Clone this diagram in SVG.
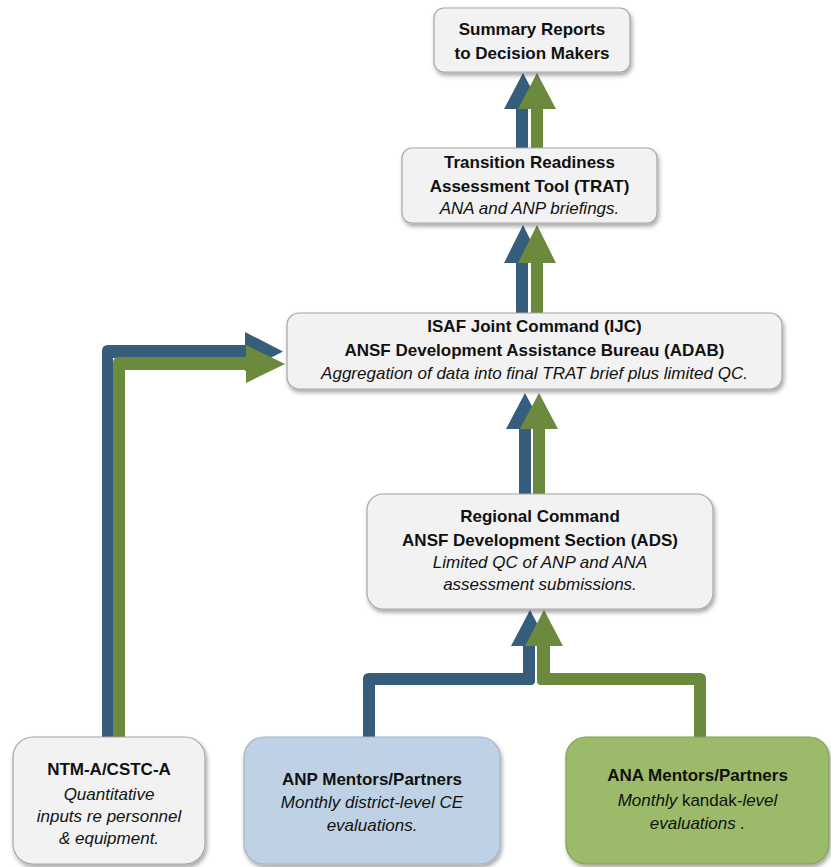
<svg xmlns="http://www.w3.org/2000/svg" width="831" height="867" viewBox="0 0 831 867">
  <defs>
    <filter id="sh" x="-10%" y="-10%" width="125%" height="135%">
      <feDropShadow dx="1.5" dy="3" stdDeviation="2" flood-color="#000" flood-opacity="0.35"/>
    </filter>
  </defs>
  <style>
    .box{fill:#f2f2f2;stroke:#a6a6a6;stroke-width:1.2;filter:url(#sh)}
    .anp{fill:#bfd1e4;stroke:#a3b3c3}
    .ana{fill:#9cbb6b;stroke:#819d56}
    .t{font-family:"Liberation Sans",Arial,sans-serif;font-size:17px;fill:#111;text-anchor:middle}
    .b{font-weight:bold}
    .i{font-style:italic}
    .n{font-style:normal}
    .blue{fill:#375d7c}
    .green{fill:#6b8a3e}
  </style>

  <g id="connectors">
    <!-- TRAT -> Summary -->
    <path class="blue" d="M523,73 L542,109 H528 V148 H516 V109 H504 Z"/>
    <path class="green" d="M537,73 L556,109 H543 V148 H531 V109 H518 Z"/>
    <!-- ISAF -> TRAT -->
    <path class="blue" d="M523,225 L542,263 H528 V313 H516 V263 H504 Z"/>
    <path class="green" d="M537,225 L556,263 H543 V313 H531 V263 H518 Z"/>
    <!-- RC -> ISAF -->
    <path class="blue" d="M525,393 L544,429 H531 V494 H519 V429 H506 Z"/>
    <path class="green" d="M539,393 L558,429 H545 V494 H533 V429 H520 Z"/>
    <!-- ANP / ANA -> RC -->
    <path class="blue" d="M530,610 L549,646 H535 V681 Q535,685 531,685 H375 V737 H363 V679 Q363,673 369,673 H523 V646 H511 Z"/>
    <path class="green" d="M544,610 L563,646 H550 V673 H700 Q706,673 706,679 V737 H694 V685 H541 Q537,685 537,681 V646 H525 Z"/>
    <!-- NTM -> ISAF -->
    <path class="blue" d="M102,737 V351 Q102,345 108,345 H245 V332 L283,351.5 L245,371 V358 H113 V737 Z"/>
    <path class="green" d="M113,737 V363 Q113,357 119,357 H246 V345 L285,364 L246,383 V370 H125 V737 Z"/>
  </g>

  <g id="summary">
    <rect class="box" x="434" y="8" width="196" height="64" rx="10"/>
    <text class="t b" x="532" y="35">Summary Reports</text>
    <text class="t b" x="532" y="59">to Decision Makers</text>
  </g>

  <g id="trat">
    <rect class="box" x="402" y="148" width="255" height="75" rx="10"/>
    <text class="t b" x="529.5" y="168">Transition Readiness</text>
    <text class="t b" x="529.5" y="192">Assessment Tool (TRAT)</text>
    <text class="t i" x="529.5" y="214">ANA and ANP briefings.</text>
  </g>

  <g id="isaf">
    <rect class="box" x="287" y="313" width="495" height="76" rx="12"/>
    <text class="t b" x="534.5" y="332">ISAF Joint Command (IJC)</text>
    <text class="t b" x="534.5" y="356">ANSF Development Assistance Bureau (ADAB)</text>
    <text class="t i" x="534.5" y="379">Aggregation of data into final TRAT brief plus limited QC.</text>
  </g>

  <g id="rc">
    <rect class="box" x="367" y="494" width="346" height="115" rx="16"/>
    <text class="t b" x="540" y="522">Regional Command</text>
    <text class="t b" x="540" y="546">ANSF Development Section (ADS)</text>
    <text class="t i" x="540" y="568">Limited QC of ANP and ANA</text>
    <text class="t i" x="540" y="590">assessment submissions.</text>
  </g>

  <g id="ntm">
    <rect class="box" x="13" y="737" width="192" height="127" rx="20"/>
    <text class="t b" x="109" y="775">NTM-A/CSTC-A</text>
    <text class="t i" x="109" y="800">Quantitative</text>
    <text class="t i" x="109" y="822">inputs re personnel</text>
    <text class="t i" x="109" y="844">&amp; equipment.</text>
  </g>

  <g id="anp">
    <rect class="box anp" x="244" y="737" width="256" height="127" rx="20"/>
    <text class="t b" x="372" y="785">ANP Mentors/Partners</text>
    <text class="t i" x="372" y="808">Monthly district-level CE</text>
    <text class="t i" x="372" y="831">evaluations.</text>
  </g>

  <g id="ana">
    <rect class="box ana" x="566" y="737" width="263" height="127" rx="20"/>
    <text class="t b" x="697.5" y="781">ANA Mentors/Partners</text>
    <text class="t i" x="697.5" y="806">Monthly <tspan class="n">kandak</tspan>-level</text>
    <text class="t i" x="697.5" y="829">evaluations .</text>
  </g>
</svg>
